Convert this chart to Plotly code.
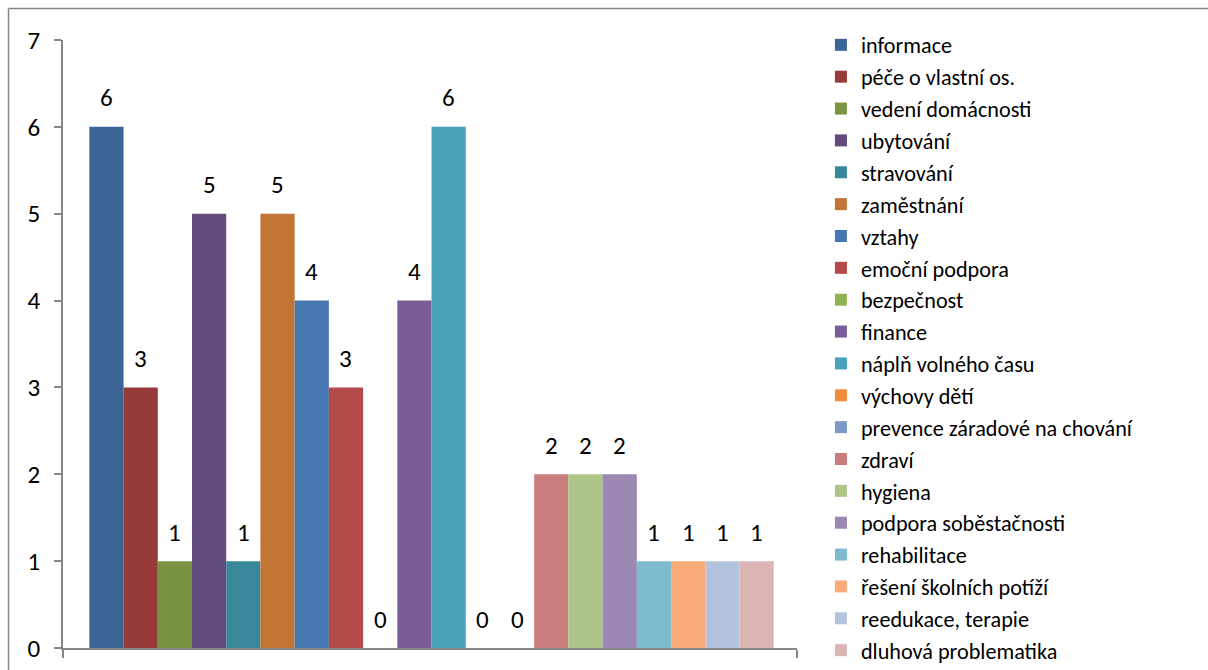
import plotly.graph_objects as go

categories = ["informace", "péče o vlastní os.", "vedení domácnosti", "ubytování",
              "stravování", "zaměstnání", "vztahy", "emoční podpora", "bezpečnost",
              "finance", "náplň volného času", "výchovy dětí",
              "prevence záradové na chování", "zdraví", "hygiena",
              "podpora soběstačnosti", "rehabilitace", "řešení školních potíží",
              "reedukace, terapie", "dluhová problematika"]
values = [6, 3, 1, 5, 1, 5, 4, 3, 0, 4, 6, 0, 0, 2, 2, 2, 1, 1, 1, 1]
colors = ["#3C6496", "#963B3A", "#7A9444", "#634C7D", "#38879A", "#C27535",
          "#4878B2", "#B44B48", "#92B255", "#7A5D97", "#47A2BA", "#F08C3D",
          "#7E9BC8", "#CB7C7C", "#ADC687", "#9B89B4", "#7DBACD", "#F8AA78",
          "#B3C3DE", "#DDB4B4"]
y_ticks = [0, 1, 2, 3, 4, 5, 6, 7]

FONT = "Carlito, 'Open Sans', sans-serif"
AXIS = "#868686"

W, H = 1208, 670
L, R, T, B = 63, 411, 40, 22
PW, PH = W - L - R, H - T - B
BORDER = 8.5

fig = go.Figure()
for i, (name, v, c) in enumerate(zip(categories, values, colors)):
    fig.add_trace(go.Bar(x=[i], y=[v], name=name, width=1.0,
                         marker=dict(color=c, line=dict(width=0)),
                         legendgroup=name))
    fig.add_annotation(x=i, y=v, text=str(v), showarrow=False,
                       yanchor="middle", yshift=29,
                       font=dict(family=FONT, size=25, color="#000000"))

n = len(values)
x_lo, x_hi = -0.5 - 0.77, n - 0.5 + 0.68
fig.update_layout(
    width=W, height=H,
    margin=dict(l=L, r=R, t=T, b=B, autoexpand=False),
    paper_bgcolor="white", plot_bgcolor="white",
    barmode="overlay",
    font=dict(family=FONT, size=22, color="#000000"),
    showlegend=True,
    legend=dict(x=1.0326, xanchor="left", y=1.0265, yanchor="top",
                font=dict(family=FONT, size=22.2, color="#000000"),
                bgcolor="rgba(0,0,0,0)", tracegroupgap=0, maxheight=1.0,
                itemclick=False, itemdoubleclick=False),
    xaxis=dict(range=[x_lo, x_hi], showgrid=False, zeroline=False,
               showline=True, linecolor=AXIS, linewidth=1.5,
               tickvals=[x_lo, x_hi], ticks="outside", ticklen=8,
               tickcolor=AXIS, tickwidth=1.5, showticklabels=False),
    yaxis=dict(range=[0, 7], tickvals=y_ticks, showgrid=False, zeroline=False,
               showline=True, linecolor=AXIS, linewidth=1.5,
               ticks="outside", ticklen=7, tickcolor=AXIS, tickwidth=1.5,
               ticklabelstandoff=9,
               tickfont=dict(family=FONT, size=25, color="#000000")),
    shapes=[
        dict(type="line", xref="paper", yref="paper",
             x0=(BORDER - L) / PW, x1=3.0,
             y0=(PH + T - BORDER) / PH, y1=(PH + T - BORDER) / PH,
             line=dict(color=AXIS, width=1.5), layer="below"),
        dict(type="line", xref="paper", yref="paper",
             x0=(BORDER - L) / PW, x1=(BORDER - L) / PW,
             y0=-1.0, y1=(PH + T - BORDER) / PH,
             line=dict(color=AXIS, width=1.5), layer="below"),
    ],
)

fig.write_html("out.html",
               config={"displayModeBar": False},
               post_script="document.body.style.margin='0';"
                           "document.body.style.overflow='hidden';")
